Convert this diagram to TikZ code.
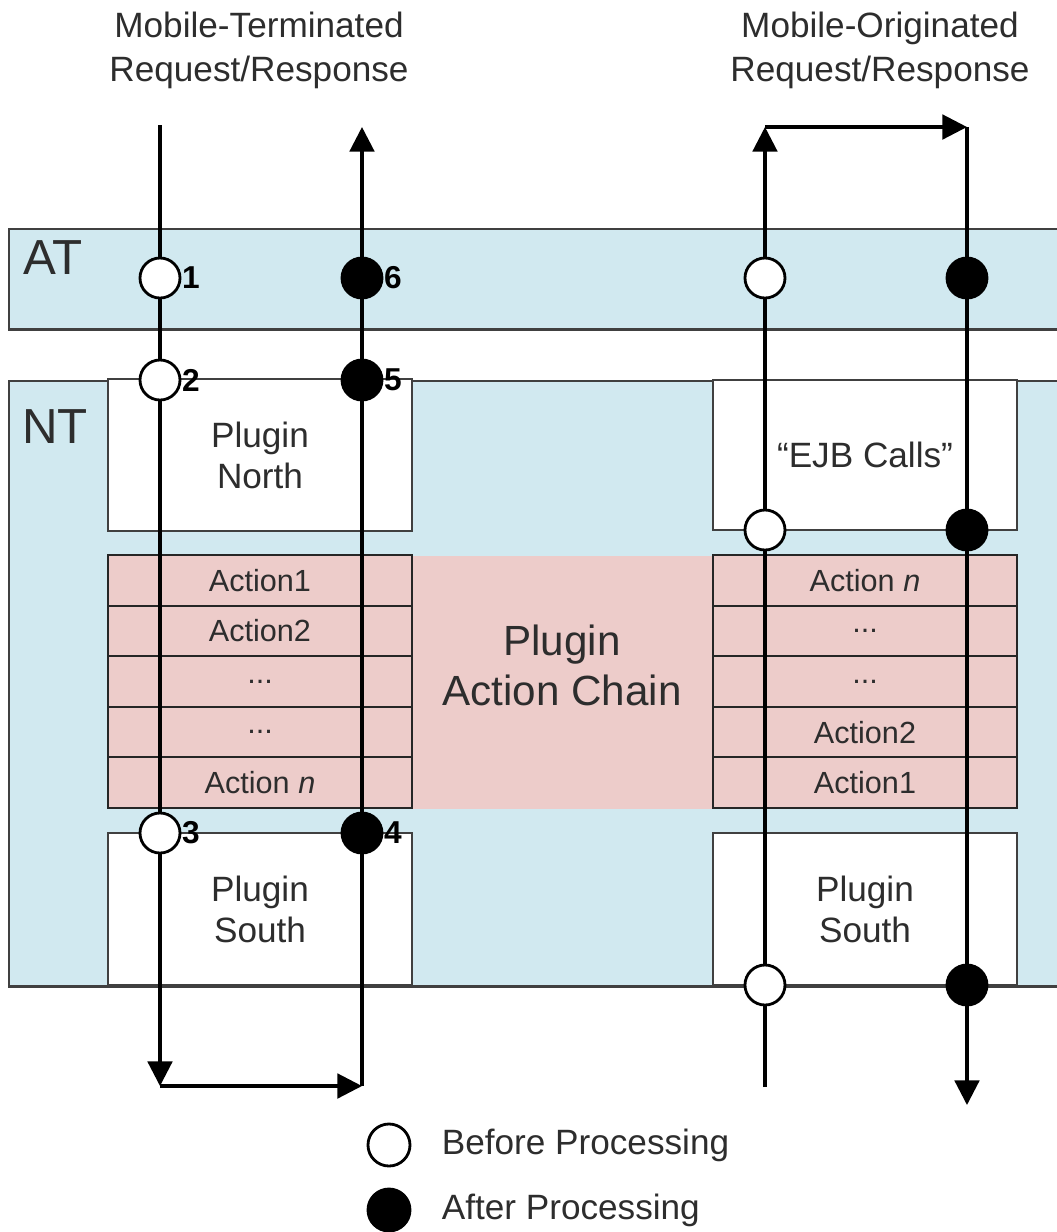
\documentclass[tikz,border=0pt]{standalone}
\usepackage{fontspec}
\setmainfont{Liberation Sans}
\usetikzlibrary{arrows.meta,positioning}
\definecolor{tierblue}{RGB}{209,233,240}
\definecolor{chainpink}{RGB}{237,204,202}
\definecolor{txtgray}{RGB}{45,45,45}

\begin{document}
\begin{tikzpicture}[
  x=0.01cm, y=-0.01cm,
  every node/.style={align=center, font=\fontsize{10}{12.5}\selectfont, text=txtgray},
  band/.style={draw=black!75, fill=tierblue, line width=0.7pt, anchor=north west, inner sep=0pt},
  plug/.style={draw=black!75, fill=white, line width=0.6pt, minimum width=3.04cm,
               minimum height=1.52cm, inner sep=0pt, font=\fontsize{10}{11.7}\selectfont},
  act/.style={draw=black!85, line width=0.6pt, minimum width=3.04cm, minimum height=0.506cm,
              inner sep=0pt, font=\fontsize{8.7}{10}\selectfont},
  pre/.style={circle, draw=black, fill=white, line width=0.8pt, minimum size=0.4cm,
              inner sep=0pt, label distance=0.13cm},
  post/.style={pre, fill=black},
  num/.style={font=\fontsize{9}{10}\bfseries\selectfont, text=black, inner sep=0pt},
  flow/.style={line width=0.9pt, -{Triangle[length=7pt,width=7pt]}},
]
  \clip (0,0) rectangle (1057,1232);

  % Tiers
  \node[band, minimum width=10.6cm, minimum height=1cm]    (atband) at (8,228) {};
  \node[band, minimum width=10.6cm, minimum height=6.05cm] (ntband) at (8,380) {};
  \node[font=\fontsize{14}{16}\selectfont] (atlbl) at (53,258) {AT};
  \node[font=\fontsize{14}{16}\selectfont] (ntlbl) at (55,427) {NT};

  % Action chain background
  \node[fill=chainpink, anchor=north west, inner sep=0pt, minimum width=9.09cm,
        minimum height=2.53cm] (chain) at (108,555) {};
  \node[font=\fontsize{12}{14.2}\selectfont] (chaintxt) at (562,665) {Plugin\\Action Chain};

  % Plugins
  \node[plug] (pnorth) at (260,455) {Plugin\\North};
  \node[plug] (psouthl) at (260,909) {Plugin\\South};
  \node[plug, minimum height=1.5cm] (ejb) at (865,455) {\textquotedblleft EJB Calls\textquotedblright};
  \node[plug] (psouthr) at (865,909) {Plugin\\South};

  % Actions, mobile-terminated side
  \node[act] (la1) at (260,580.3) {Action1};
  \node[act] (la2) at (260,630.9) {Action2};
  \node[act] (la3) at (260,681.5) {...};
  \node[act] (la4) at (260,732.1) {...};
  \node[act] (la5) at (260,782.7) {Action \textit{n}};

  % Actions, mobile-originated side
  \node[act] (ra5) at (865,580.3) {Action \textit{n}};
  \node[act] (ra4) at (865,630.9) {...};
  \node[act] (ra3) at (865,681.5) {...};
  \node[act] (ra2) at (865,732.1) {Action2};
  \node[act] (ra1) at (865,782.7) {Action1};

  % Processing points
  \node[pre,  label={[num]right:1}] (c1) at (160,278) {};
  \node[pre,  label={[num]right:2}] (c2) at (160,380) {};
  \node[pre,  label={[num]right:3}] (c3) at (160,833) {};
  \node[post, label={[num]right:4}] (c4) at (362,833) {};
  \node[post, label={[num]right:5}] (c5) at (362,380) {};
  \node[post, label={[num]right:6}] (c6) at (362,278) {};
  \node[pre]  (r1) at (765,278) {};
  \node[pre]  (r2) at (765,530) {};
  \node[pre]  (r3) at (765,985) {};
  \node[post] (s1) at (967,278) {};
  \node[post] (s2) at (967,530) {};
  \node[post] (s3) at (967,985) {};

  \coordinate (mtin)  at (160,125);
  \coordinate (mtbl)  at (160,1086);
  \coordinate (mtbr)  at (362,1086);
  \coordinate (mtout) at (362,127);
  \coordinate (moin)  at (765,1087);
  \coordinate (motl)  at (765,127);
  \coordinate (motr)  at (967,127);
  \coordinate (moout) at (967,1105);

  % Mobile-terminated path
  \draw[flow] (mtin) -- (c1) -- (c2) -- (c3) -- (mtbl);
  \draw[flow] (mtbl) -- (mtbr);
  \draw[flow] (mtbr) -- (c4) -- (c5) -- (c6) -- (mtout);

  % Mobile-originated path
  \draw[flow] (moin) -- (r3) -- (r2) -- (r1) -- (motl);
  \draw[flow] (motl) -- (motr);
  \draw[flow] (motr) -- (s1) -- (s2) -- (s3) -- (moout);

  % Titles
  \node (mttitle) at (259,50) {Mobile-Terminated\\Request/Response};
  \node (motitle) at (880,50) {Mobile-Originated\\Request/Response};

  % Legend
  \node[pre, minimum size=0.42cm] (lgpre) at (389,1145) {};
  \node[post, minimum size=0.42cm] (lgpost) at (389,1210) {};
  \node[right=0.18cm of lgpre]  (lgpretxt)  {Before Processing};
  \node[right=0.18cm of lgpost] (lgposttxt) {After Processing};
\end{tikzpicture}
\end{document}
